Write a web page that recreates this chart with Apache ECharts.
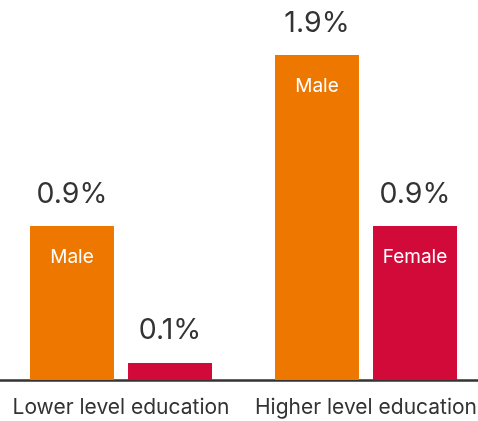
<!DOCTYPE html>
<html>
<head>
<meta charset="utf-8">
<style>
  html, body { margin: 0; padding: 0; background: #fff; overflow: hidden; }
  body { width: 478px; height: 421px; position: relative; }
  #chart { position: absolute; left: -2px; top: 0; width: 492px; height: 421px; }
</style>
<script src="https://cdn.jsdelivr.net/npm/echarts@6/dist/echarts.min.js"></script>
</head>
<body>
<div id="chart"></div>
<script>
// Share of each group, in percent
const categories = ['Lower level education', 'Higher level education'];
const maleValues = [0.9, 1.9];
const femaleValues = [0.1, 0.9];
// Name shown inside a bar (empty where the bar is too short)
const maleInside = ['Male', 'Male'];
const femaleInside = ['', 'Female'];

const FONT = 'Inter, Roboto, sans-serif';

function labelText(value, name) {
  const v = '{v|' + value.toFixed(1) + '%}';
  return name ? v + '\n{n|' + name + '}' : v;
}

function makeData(values, names) {
  return values.map((v, i) => ({ value: v, name: names[i] }));
}

// Value printed above the bar, group name printed inside it
const labelCfg = {
  show: true,
  position: 'insideTop',
  distance: 0,
  offset: [0, -72],
  fontFamily: FONT,
  formatter: p => labelText(p.value, p.data.name),
  rich: {
    v: { fontFamily: FONT, fontSize: 28.5, lineHeight: 80, color: '#333333' },
    n: { fontFamily: FONT, fontSize: 19, lineHeight: 46, color: '#ffffff' }
  }
};

const chart = echarts.init(document.getElementById('chart'), null, { renderer: 'canvas' });
chart.setOption({
  animation: false,
  grid: { left: 0.5, right: 1.5, top: 38, bottom: 41, containLabel: false },
  xAxis: {
    type: 'category',
    data: categories,
    axisLine: { show: true, lineStyle: { color: '#333333', width: 2.5 } },
    axisTick: { show: false },
    axisLabel: {
      interval: 0,
      hideOverlap: false,
      fontFamily: FONT,
      fontSize: 21,
      color: '#333333',
      margin: 17
    }
  },
  yAxis: {
    type: 'value',
    min: 0,
    max: 2,
    show: false,
    splitLine: { show: false }
  },
  series: [
    {
      type: 'bar',
      data: makeData(maleValues, maleInside),
      itemStyle: { color: '#EE7700' },
      barWidth: 84,
      barGap: '16.7%',
      label: labelCfg
    },
    {
      type: 'bar',
      data: makeData(femaleValues, femaleInside),
      itemStyle: { color: '#D20A3A' },
      barWidth: 84,
      barGap: '16.7%',
      label: labelCfg
    }
  ]
});
</script>
</body>
</html>
